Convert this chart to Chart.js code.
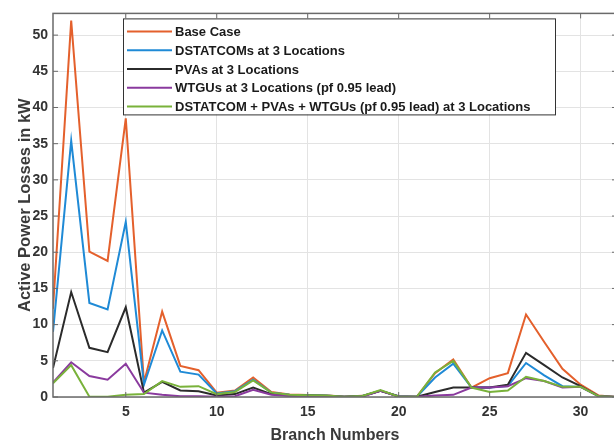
<!DOCTYPE html>
<html>
<head>
<meta charset="utf-8">
<script src="https://cdn.jsdelivr.net/npm/chart.js@4.4.1/dist/chart.umd.min.js"></script>
<style>
  html, body { margin: 0; padding: 0; background: #fff; overflow: hidden; }
  #wrap { width: 620px; height: 446px; }
</style>
</head>
<body>
<div id="wrap"><canvas id="lossChart" width="620" height="446"></canvas></div>
<script>
// branch numbers on the x axis
const BRANCHES = [1, 2, 3, 4, 5, 6, 7, 8, 9, 10, 11, 12, 13, 14, 15, 16,
                  17, 18, 19, 20, 21, 22, 23, 24, 25, 26, 27, 28, 29, 30, 31, 32];

// losses in kW
const BASE_CASE = [12.2, 52.0, 20.1, 18.8, 38.5, 2.0, 11.8, 4.3, 3.7, 0.6, 0.9, 2.7,
                   0.7, 0.35, 0.28, 0.25, 0.05, 0.16, 0.85, 0.1, 0.04, 3.3, 5.2, 1.3,
                   2.6, 3.3, 11.4, 7.6, 3.9, 1.7, 0.2, 0.01];
const DSTATCOM = [9.0, 35.4, 13.0, 12.1, 24.2, 1.7, 9.2, 3.5, 3.1, 0.5, 0.8, 2.4,
                  0.6, 0.3, 0.25, 0.2, 0.05, 0.15, 0.85, 0.1, 0.04, 2.7, 4.6, 1.3,
                  1.3, 1.5, 4.7, 3.0, 1.5, 1.4, 0.1, 0.0];
const PVAS = [4.0, 14.5, 6.8, 6.2, 12.4, 0.6, 2.1, 0.9, 0.8, 0.2, 0.4, 1.3,
              0.4, 0.2, 0.2, 0.15, 0.03, 0.1, 0.85, 0.08, 0.03, 0.7, 1.3, 1.3,
              1.3, 1.7, 6.1, 4.4, 2.7, 1.5, 0.1, 0.0];
const WTGUS = [2.0, 4.8, 2.9, 2.4, 4.6, 0.6, 0.3, 0.1, 0.1, 0.05, 0.1, 1.0,
               0.3, 0.15, 0.1, 0.1, 0.02, 0.05, 0.85, 0.05, 0.02, 0.2, 0.3, 1.3,
               1.3, 1.5, 2.6, 2.2, 1.3, 1.4, 0.1, 0.0];
const COMBINED = [1.9, 4.4, 0.05, 0.05, 0.3, 0.4, 2.2, 1.4, 1.5, 0.4, 0.7, 2.3,
                  0.6, 0.3, 0.25, 0.2, 0.05, 0.15, 0.95, 0.05, 0.03, 3.4, 5.0, 1.3,
                  0.7, 0.9, 2.8, 2.2, 1.4, 1.4, 0.1, 0.0];

const SERIES_LABELS = [
    "Base Case",
    "DSTATCOMs at 3 Locations",
    "PVAs at 3 Locations",
    "WTGUs at 3 Locations (pf 0.95 lead)",
    "DSTATCOM + PVAs + WTGUs (pf 0.95 lead) at 3 Locations"
];
const SERIES_COLORS = ["#e4602c", "#1f8ad6", "#2b2b2b", "#8a3a9e", "#79b23a"];

const X_TICKS = [5, 10, 15, 20, 25, 30];
const Y_TICKS = [0, 5, 10, 15, 20, 25, 30, 35, 40, 45, 50];

const FONT = "'Liberation Sans', Arial, sans-serif";
const AXIS_COLOR = "#6a6a6a";

function toPoints(values) {
    return values.map((v, i) => ({ x: BRANCHES[i], y: v }));
}

// legend box inside the plot, plus the axes frame with inward ticks
const framePlugin = {
    id: "frame",
    afterDraw(chart) {
        const { ctx, chartArea: a, scales } = chart;
        ctx.save();

        // frame
        ctx.strokeStyle = AXIS_COLOR;
        ctx.lineWidth = 1.5;
        ctx.strokeRect(a.left, a.top, a.right - a.left, a.bottom - a.top);

        // inward ticks (top, bottom, left, right)
        ctx.lineWidth = 1;
        ctx.beginPath();
        X_TICKS.forEach(v => {
            const px = scales.x.getPixelForValue(v);
            ctx.moveTo(px, a.top); ctx.lineTo(px, a.top + 5);
            ctx.moveTo(px, a.bottom); ctx.lineTo(px, a.bottom - 5);
        });
        Y_TICKS.forEach(v => {
            const py = scales.y.getPixelForValue(v);
            ctx.moveTo(a.left, py); ctx.lineTo(a.left + 5, py);
            ctx.moveTo(a.right, py); ctx.lineTo(a.right - 5, py);
        });
        ctx.stroke();

        // legend
        const boxX = a.left + 70, boxY = a.top + 5, boxW = 432, boxH = 96;
        ctx.fillStyle = "#ffffff";
        ctx.fillRect(boxX, boxY, boxW, boxH);
        ctx.strokeStyle = "#333333";
        ctx.lineWidth = 1;
        ctx.strokeRect(boxX + 0.5, boxY + 0.5, boxW, boxH);

        ctx.font = "bold 13px " + FONT;
        ctx.textBaseline = "middle";
        chart.data.datasets.forEach((ds, i) => {
            const y = boxY + 13 + i * 18.8;
            ctx.strokeStyle = ds.borderColor;
            ctx.lineWidth = 2;
            ctx.beginPath();
            ctx.moveTo(boxX + 4, y);
            ctx.lineTo(boxX + 49, y);
            ctx.stroke();
            ctx.fillStyle = "#1a1a1a";
            ctx.fillText(ds.label, boxX + 52, y + 1);
        });
        ctx.restore();
    }
};

const datasets = [BASE_CASE, DSTATCOM, PVAS, WTGUS, COMBINED].map((vals, i) => ({
    label: SERIES_LABELS[i],
    data: toPoints(vals),
    borderColor: SERIES_COLORS[i],
    backgroundColor: SERIES_COLORS[i],
    borderWidth: 2,
    pointRadius: 0,
    tension: 0,
    fill: false
}));
// later series are drawn on top, as in the source plot
datasets.forEach((ds, i) => { ds.order = datasets.length - i; });

new Chart(document.getElementById("lossChart"), {
    type: "line",
    data: { datasets },
    options: {
        responsive: false,
        animation: false,
        devicePixelRatio: 1,
        layout: { padding: { left: 0, top: 7, right: 3, bottom: 0 } },
        plugins: {
            legend: { display: false },
            tooltip: { enabled: false }
        },
        scales: {
            x: {
                type: "linear",
                min: 1,
                max: 32,
                afterBuildTicks: s => { s.ticks = X_TICKS.map(v => ({ value: v })); },
                afterFit: s => { s.height = 49; },
                grid: { color: "#e3e3e3", lineWidth: 1, drawTicks: false },
                border: { display: false },
                ticks: {
                    padding: 7,
                    color: "#333333",
                    font: { family: FONT, size: 14, weight: "bold" }
                },
                title: {
                    display: true,
                    text: "Branch Numbers",
                    color: "#3a3a3a",
                    padding: { top: 0, bottom: 1 },
                    font: { family: FONT, size: 16, weight: "bold" }
                }
            },
            y: {
                min: 0,
                max: 53,
                afterBuildTicks: s => { s.ticks = Y_TICKS.map(v => ({ value: v })); },
                afterFit: s => { s.width = 53; },
                grid: { color: "#e3e3e3", lineWidth: 1, drawTicks: false },
                border: { display: false },
                ticks: {
                    padding: 5,
                    color: "#333333",
                    font: { family: FONT, size: 14, weight: "bold" }
                },
                title: {
                    display: true,
                    text: "Active Power Losses in kW",
                    color: "#3a3a3a",
                    padding: { top: 16, bottom: 0 },
                    font: { family: FONT, size: 16.5, weight: "bold" }
                }
            }
        }
    },
    plugins: [framePlugin]
});
</script>
</body>
</html>
